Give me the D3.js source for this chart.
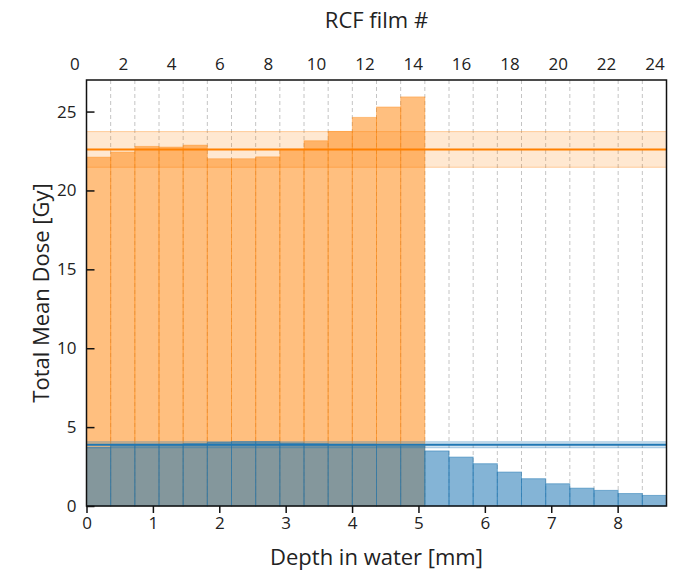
<!DOCTYPE html>
<html>
<head>
<meta charset="utf-8">
<script src="https://cdn.jsdelivr.net/npm/d3@7"></script>
<style>
  body { margin: 0; background: #fff; }
  text { font-family: "Open Sans", "Noto Sans", sans-serif; fill: #222; }
</style>
</head>
<body>
<div id="chart"></div>
<script>
// film numbers (one bar per RCF film)
var films = d3.range(1, 25);
// total mean dose per film [Gy], first beam (orange)
var doseOrange = [22.11, 22.43, 22.79, 22.75, 22.87, 22.01, 22.01, 22.13, 22.62, 23.15, 23.74, 24.63, 25.29, 25.93];
// second beam (blue)
var doseBlue = [3.70, 3.91, 3.91, 3.91, 3.95, 4.04, 4.08, 4.08, 3.99, 3.95, 3.91, 3.91, 3.80, 3.80,
                3.49, 3.10, 2.68, 2.15, 1.73, 1.41, 1.13, 0.99, 0.79, 0.67];
// reference dose and band
var refOrange = {mean: 22.6, lo: 21.47, hi: 23.73};
var refBlue = {mean: 3.88, lo: 3.69, hi: 4.07};
var filmThickness = 0.364; // mm
var topTicks = d3.range(0, 25, 2);
var bottomTicks = d3.range(0, 9, 1);
var leftTicks = [0, 5, 10, 15, 20, 25];

var W = 692, H = 577;
var L = 86.5, R = 666.5, T = 80, B = 506;

var ORANGE = "#ff8000", BLUE = "#1f77b4";

var svg = d3.select("#chart").append("svg")
    .attr("width", W).attr("height", H);

var xFilm = d3.scaleLinear().domain([0.5, 24.5]).range([L, R]);
var xDepth = d3.scaleLinear().domain([0, 24 * filmThickness]).range([L, R]);
var y = d3.scaleLinear().domain([0, 27]).range([B, T]);

var edges = d3.range(1.5, 24.5, 1);

// dashed grid at film boundaries
svg.append("g").selectAll("line")
    .data(edges).enter().append("line")
    .attr("x1", d => xFilm(d)).attr("x2", d => xFilm(d))
    .attr("y1", T).attr("y2", B)
    .attr("stroke", "#c4c4c4").attr("stroke-width", 1)
    .attr("stroke-dasharray", "4,3");

function bars(data, color, fillOp, strokeOp){
    svg.append("g").selectAll("rect")
        .data(data).enter().append("rect")
        .attr("x", (d, i) => xFilm(films[i] - 0.5))
        .attr("width", (d, i) => xFilm(films[i] + 0.5) - xFilm(films[i] - 0.5))
        .attr("y", d => y(d))
        .attr("height", d => y(0) - y(d))
        .attr("fill", color).attr("fill-opacity", fillOp)
        .attr("stroke", color).attr("stroke-opacity", strokeOp)
        .attr("stroke-width", 1);
}
bars(doseOrange, ORANGE, 0.5, 0.35);
bars(doseBlue, BLUE, 0.55, 0.5);

function band(ref, color, fillOp){
    var g = svg.append("g");
    g.append("rect")
        .attr("x", L).attr("width", R - L)
        .attr("y", y(ref.hi)).attr("height", y(ref.lo) - y(ref.hi))
        .attr("fill", color).attr("fill-opacity", fillOp);
    [ref.lo, ref.hi].forEach(function(v){
        g.append("line")
            .attr("x1", L).attr("x2", R).attr("y1", y(v)).attr("y2", y(v))
            .attr("stroke", color).attr("stroke-opacity", 0.35).attr("stroke-width", 1);
    });
    g.append("line")
        .attr("x1", L).attr("x2", R).attr("y1", y(ref.mean)).attr("y2", y(ref.mean))
        .attr("stroke", color).attr("stroke-width", 2);
}
band(refOrange, ORANGE, 0.18);
band(refBlue, BLUE, 0.2);

// axes
var fs = "17px";

// bottom
var gB = svg.append("g").attr("transform", "translate(0," + B + ")");
gB.call(d3.axisBottom(xDepth).tickValues(d3.range(0.5, 8.7, 1)).tickSize(3.5).tickFormat(""));
gB.call(d3.axisBottom(xDepth).tickValues(bottomTicks).tickSize(7).tickPadding(4).tickFormat(d3.format("d")));
gB.selectAll(".domain").remove();
gB.selectAll("text").style("font-size", fs);
gB.selectAll("line").attr("stroke", "#111").attr("stroke-width", 1.5);

// left
var gL = svg.append("g").attr("transform", "translate(" + L + ",0)");
gL.call(d3.axisLeft(y).tickValues(d3.range(2.5, 27, 5)).tickSize(-4).tickFormat(""));
gL.call(d3.axisLeft(y).tickValues(leftTicks).tickSize(-8).tickPadding(10).tickFormat(d3.format("d")));
gL.selectAll(".domain").remove();
gL.selectAll("text").style("font-size", fs);
gL.selectAll("line").attr("stroke", "#111").attr("stroke-width", 1.5);

// top
var gT = svg.append("g").attr("transform", "translate(0," + T + ")");
gT.call(d3.axisTop(xFilm).tickValues(edges).tickSize(-5).tickFormat(""));
gT.call(d3.axisTop(xFilm).tickValues(topTicks).tickSize(0).tickPadding(10).tickFormat(d3.format("d")));
gT.selectAll(".domain").remove();
gT.selectAll("text").style("font-size", fs);
gT.selectAll("line").attr("stroke", "#111").attr("stroke-width", 1.5);

// frame
svg.append("rect")
    .attr("x", L).attr("y", T).attr("width", R - L).attr("height", B - T)
    .attr("fill", "none").attr("stroke", "#111").attr("stroke-width", 1.5);

// titles
svg.append("text").attr("x", (L + R) / 2).attr("y", 565)
    .attr("text-anchor", "middle").style("font-size", "22px")
    .text("Depth in water [mm]");
svg.append("text").attr("x", (L + R) / 2).attr("y", 28)
    .attr("text-anchor", "middle").style("font-size", "22px")
    .text("RCF film #");
svg.append("text")
    .attr("transform", "translate(49," + (T + B) / 2 + ") rotate(-90)")
    .attr("text-anchor", "middle").style("font-size", "22px")
    .text("Total Mean Dose [Gy]");
</script>
</body>
</html>
